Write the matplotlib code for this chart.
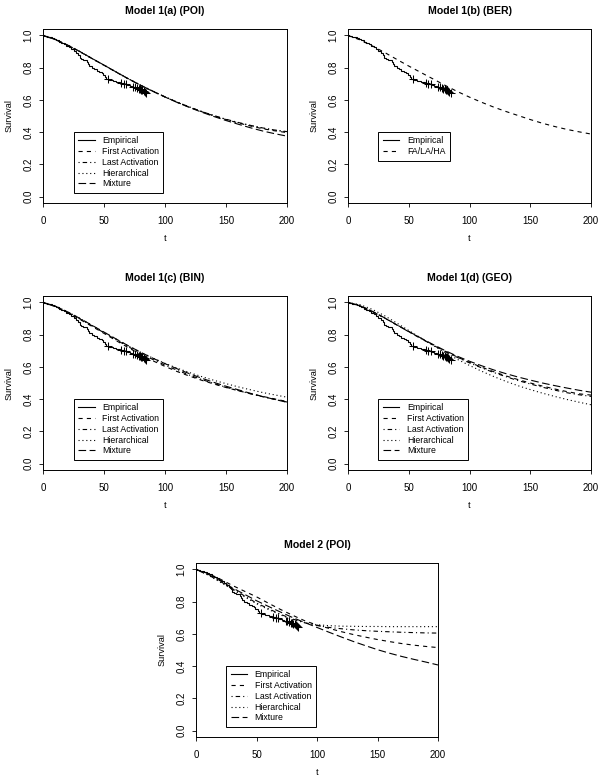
import numpy as np
import matplotlib
matplotlib.use("Agg")
import matplotlib.pyplot as plt

plt.rcParams['font.family'] = ['Liberation Sans', 'DejaVu Sans']
plt.rcParams['lines.scale_dashes'] = False

# ---------------- data ----------------
# Kaplan-Meier empirical curve (event times and survival after each step)
km_times = [0, 1, 3, 5, 7, 9, 11, 13, 15, 17, 19, 21, 23, 25, 27, 29, 30, 31, 33, 35, 36, 37, 38,
            40, 42, 44, 46, 48, 49, 51, 52, 54, 57, 60, 63, 66, 69, 71, 73, 76, 78, 80, 82, 83, 84]
km_surv = [1.0, 0.997, 0.993, 0.988, 0.983, 0.977, 0.970, 0.962, 0.953, 0.944, 0.935, 0.926, 0.916,
           0.905, 0.893, 0.878, 0.862, 0.853, 0.850, 0.845, 0.835, 0.822, 0.810, 0.800, 0.790, 0.780,
           0.773, 0.765, 0.755, 0.740, 0.730, 0.722, 0.715, 0.710, 0.705, 0.700, 0.693, 0.687, 0.682,
           0.676, 0.670, 0.664, 0.656, 0.648, 0.640]
km_end = 85
censor_times = [53.5, 64, 66, 68, 74, 75.5, 77, 78.5, 79.5, 80.5, 81.5, 82.5, 83.5, 84.5]

t_grid = [0, 10, 20, 30, 40, 50, 60, 70, 80, 90, 100, 110, 120, 130, 140, 150, 160, 170, 180, 190, 200]

# Model 1(a) (POI)
a_first = [1.0, 0.975, 0.940, 0.900, 0.857, 0.815, 0.772, 0.730, 0.690, 0.653, 0.618, 0.585, 0.555, 0.527, 0.501, 0.478, 0.457, 0.438, 0.421, 0.408, 0.397]
a_last  = [1.0, 0.976, 0.941, 0.901, 0.858, 0.816, 0.773, 0.731, 0.691, 0.654, 0.619, 0.586, 0.556, 0.528, 0.503, 0.480, 0.460, 0.442, 0.426, 0.413, 0.403]
a_hier  = [1.0, 0.975, 0.940, 0.900, 0.857, 0.815, 0.772, 0.731, 0.691, 0.654, 0.619, 0.586, 0.556, 0.528, 0.502, 0.479, 0.459, 0.441, 0.425, 0.412, 0.401]
a_mix   = [1.0, 0.975, 0.941, 0.901, 0.858, 0.816, 0.773, 0.731, 0.691, 0.654, 0.618, 0.584, 0.553, 0.524, 0.497, 0.472, 0.449, 0.427, 0.407, 0.390, 0.375]

# Model 1(b) (BER): FA/LA/HA coincide
b_all = [1.0, 0.972, 0.935, 0.895, 0.852, 0.810, 0.770, 0.730, 0.690, 0.652, 0.617, 0.585, 0.555, 0.528, 0.503, 0.478, 0.455, 0.435, 0.417, 0.402, 0.388]

# Model 1(c) (BIN)
c_first = [1.0, 0.974, 0.938, 0.896, 0.852, 0.808, 0.763, 0.719, 0.677, 0.638, 0.603, 0.571, 0.543, 0.517, 0.494, 0.472, 0.452, 0.434, 0.417, 0.401, 0.385]
c_last  = [1.0, 0.975, 0.940, 0.899, 0.856, 0.812, 0.768, 0.725, 0.684, 0.646, 0.611, 0.579, 0.549, 0.522, 0.497, 0.474, 0.453, 0.433, 0.415, 0.398, 0.382]
c_hier  = [1.0, 0.978, 0.943, 0.902, 0.858, 0.815, 0.772, 0.730, 0.691, 0.655, 0.622, 0.592, 0.565, 0.540, 0.517, 0.496, 0.476, 0.458, 0.441, 0.426, 0.412]
c_mix   = [1.0, 0.977, 0.942, 0.902, 0.859, 0.816, 0.773, 0.731, 0.691, 0.654, 0.620, 0.588, 0.558, 0.530, 0.504, 0.480, 0.458, 0.436, 0.416, 0.398, 0.380]

# Model 1(d) (GEO)
d_first = [1.0, 0.979, 0.944, 0.904, 0.861, 0.819, 0.777, 0.736, 0.697, 0.661, 0.628, 0.598, 0.570, 0.544, 0.521, 0.500, 0.481, 0.463, 0.447, 0.433, 0.425]
d_last  = [1.0, 0.979, 0.944, 0.904, 0.861, 0.818, 0.776, 0.735, 0.695, 0.659, 0.625, 0.594, 0.565, 0.539, 0.515, 0.494, 0.474, 0.456, 0.440, 0.427, 0.417]
d_hier  = [1.0, 0.986, 0.957, 0.918, 0.873, 0.826, 0.779, 0.733, 0.689, 0.647, 0.609, 0.573, 0.540, 0.510, 0.483, 0.459, 0.437, 0.417, 0.398, 0.381, 0.365]
d_mix   = [1.0, 0.979, 0.945, 0.905, 0.862, 0.820, 0.779, 0.739, 0.701, 0.666, 0.635, 0.607, 0.581, 0.558, 0.537, 0.518, 0.500, 0.484, 0.469, 0.455, 0.443]

# Model 2 (POI)
m2_first = [1.0, 0.975, 0.940, 0.901, 0.865, 0.830, 0.790, 0.751, 0.715, 0.681, 0.655, 0.634, 0.614, 0.596, 0.580, 0.565, 0.552, 0.540, 0.530, 0.522, 0.515]
m2_last  = [1.0, 0.966, 0.926, 0.881, 0.836, 0.792, 0.756, 0.721, 0.692, 0.669, 0.652, 0.640, 0.632, 0.625, 0.620, 0.616, 0.613, 0.610, 0.608, 0.606, 0.605]
m2_hier  = [1.0, 0.965, 0.921, 0.876, 0.831, 0.787, 0.751, 0.717, 0.689, 0.669, 0.657, 0.651, 0.648, 0.647, 0.646, 0.646, 0.645, 0.645, 0.645, 0.645, 0.645]
m2_mix   = [1.0, 0.970, 0.930, 0.886, 0.846, 0.806, 0.770, 0.735, 0.701, 0.670, 0.640, 0.610, 0.581, 0.553, 0.527, 0.502, 0.480, 0.460, 0.442, 0.425, 0.407]

titles = ["Model 1(a) (POI)", "Model 1(b) (BER)", "Model 1(c) (BIN)", "Model 1(d) (GEO)", "Model 2 (POI)"]
legend_full = ["Empirical", "First Activation", "Last Activation", "Hierarchical", "Mixture"]
legend_ber = ["Empirical", "FA/LA/HA"]
x_ticks = [0, 50, 100, 150, 200]
y_ticks = [0.0, 0.2, 0.4, 0.6, 0.8, 1.0]

# ---------------- styles ----------------
LW = 0.8
STY = {
    "first": (0, (3.0, 3.0)),
    "last": (0, (0.8, 2.2, 3.2, 2.2)),
    "hier": (0, (0.8, 2.0)),
    "mix": (0, (5.5, 2.5)),
}
FS_TICK = 7.0
FS_LAB = 6.6
FS_LEG = 6.3
W, H = 603, 781
fig = plt.figure(figsize=(W / 100, H / 100), dpi=100)


def add_ax(l, t, r, b):
    return fig.add_axes([l / W, 1 - b / H, (r - l) / W, (b - t) / H])


def km_value(tt):
    idx = np.searchsorted(km_times, tt, side='right') - 1
    return np.asarray(km_surv)[idx]


def draw_panel(ax, title, curves, labels):
    # empirical step function
    xs = list(km_times) + [km_end]
    ys = list(km_surv) + [km_surv[-1]]
    h_emp, = ax.step(xs, ys, where='post', color='black', lw=LW, solid_joinstyle='miter')
    ax.plot(censor_times, km_value(np.array(censor_times)), linestyle='none', marker='+',
            color='black', markersize=5.5, mew=0.75)
    handles = [h_emp]
    for vals, key in curves:
        h, = ax.plot(t_grid, vals, color='black', lw=LW, linestyle=STY[key])
        handles.append(h)
    ax.set_xlim(0, 200)
    ax.set_ylim(-0.04, 1.04)
    ax.set_xticks(x_ticks)
    ax.set_xticklabels([str(v) for v in x_ticks])
    ax.set_yticks(y_ticks)
    ax.set_yticklabels([f"{v:.1f}" for v in y_ticks], rotation=90, va='center')
    ax.tick_params(direction='out', length=3.2, width=0.6, labelsize=FS_TICK, pad=6)
    ax.tick_params(axis='y', pad=3.5)
    for s in ax.spines.values():
        s.set_linewidth(0.7)
    ax.set_title(title, fontsize=7.6, fontweight='bold', pad=11)
    ax.set_xlabel("t", fontsize=FS_LAB, labelpad=6)
    ax.set_ylabel("Survival", fontsize=FS_LAB, labelpad=7)
    leg = ax.legend(handles, labels, loc='upper left', bbox_to_anchor=(25, 0.40),
                    bbox_transform=ax.transData, fontsize=FS_LEG, frameon=True, fancybox=False,
                    edgecolor='black', framealpha=1, borderpad=0.5, labelspacing=0.2,
                    handlelength=1.9, handletextpad=0.85, borderaxespad=0)
    leg.get_frame().set_linewidth(0.7)


full = lambda f, l, h, m: [(f, "first"), (l, "last"), (h, "hier"), (m, "mix")]

ax = add_ax(43, 29, 287, 203)
draw_panel(ax, titles[0], full(a_first, a_last, a_hier, a_mix), legend_full)

ax = add_ax(348, 29, 591, 203)
draw_panel(ax, titles[1], [(b_all, "first")], legend_ber)

ax = add_ax(43, 296, 287, 470)
draw_panel(ax, titles[2], full(c_first, c_last, c_hier, c_mix), legend_full)

ax = add_ax(348, 296, 591, 470)
draw_panel(ax, titles[3], full(d_first, d_last, d_hier, d_mix), legend_full)

ax = add_ax(196, 563, 438, 737)
draw_panel(ax, titles[4], full(m2_first, m2_last, m2_hier, m2_mix), legend_full)

fig.savefig("out.png", dpi=100, facecolor='white')
